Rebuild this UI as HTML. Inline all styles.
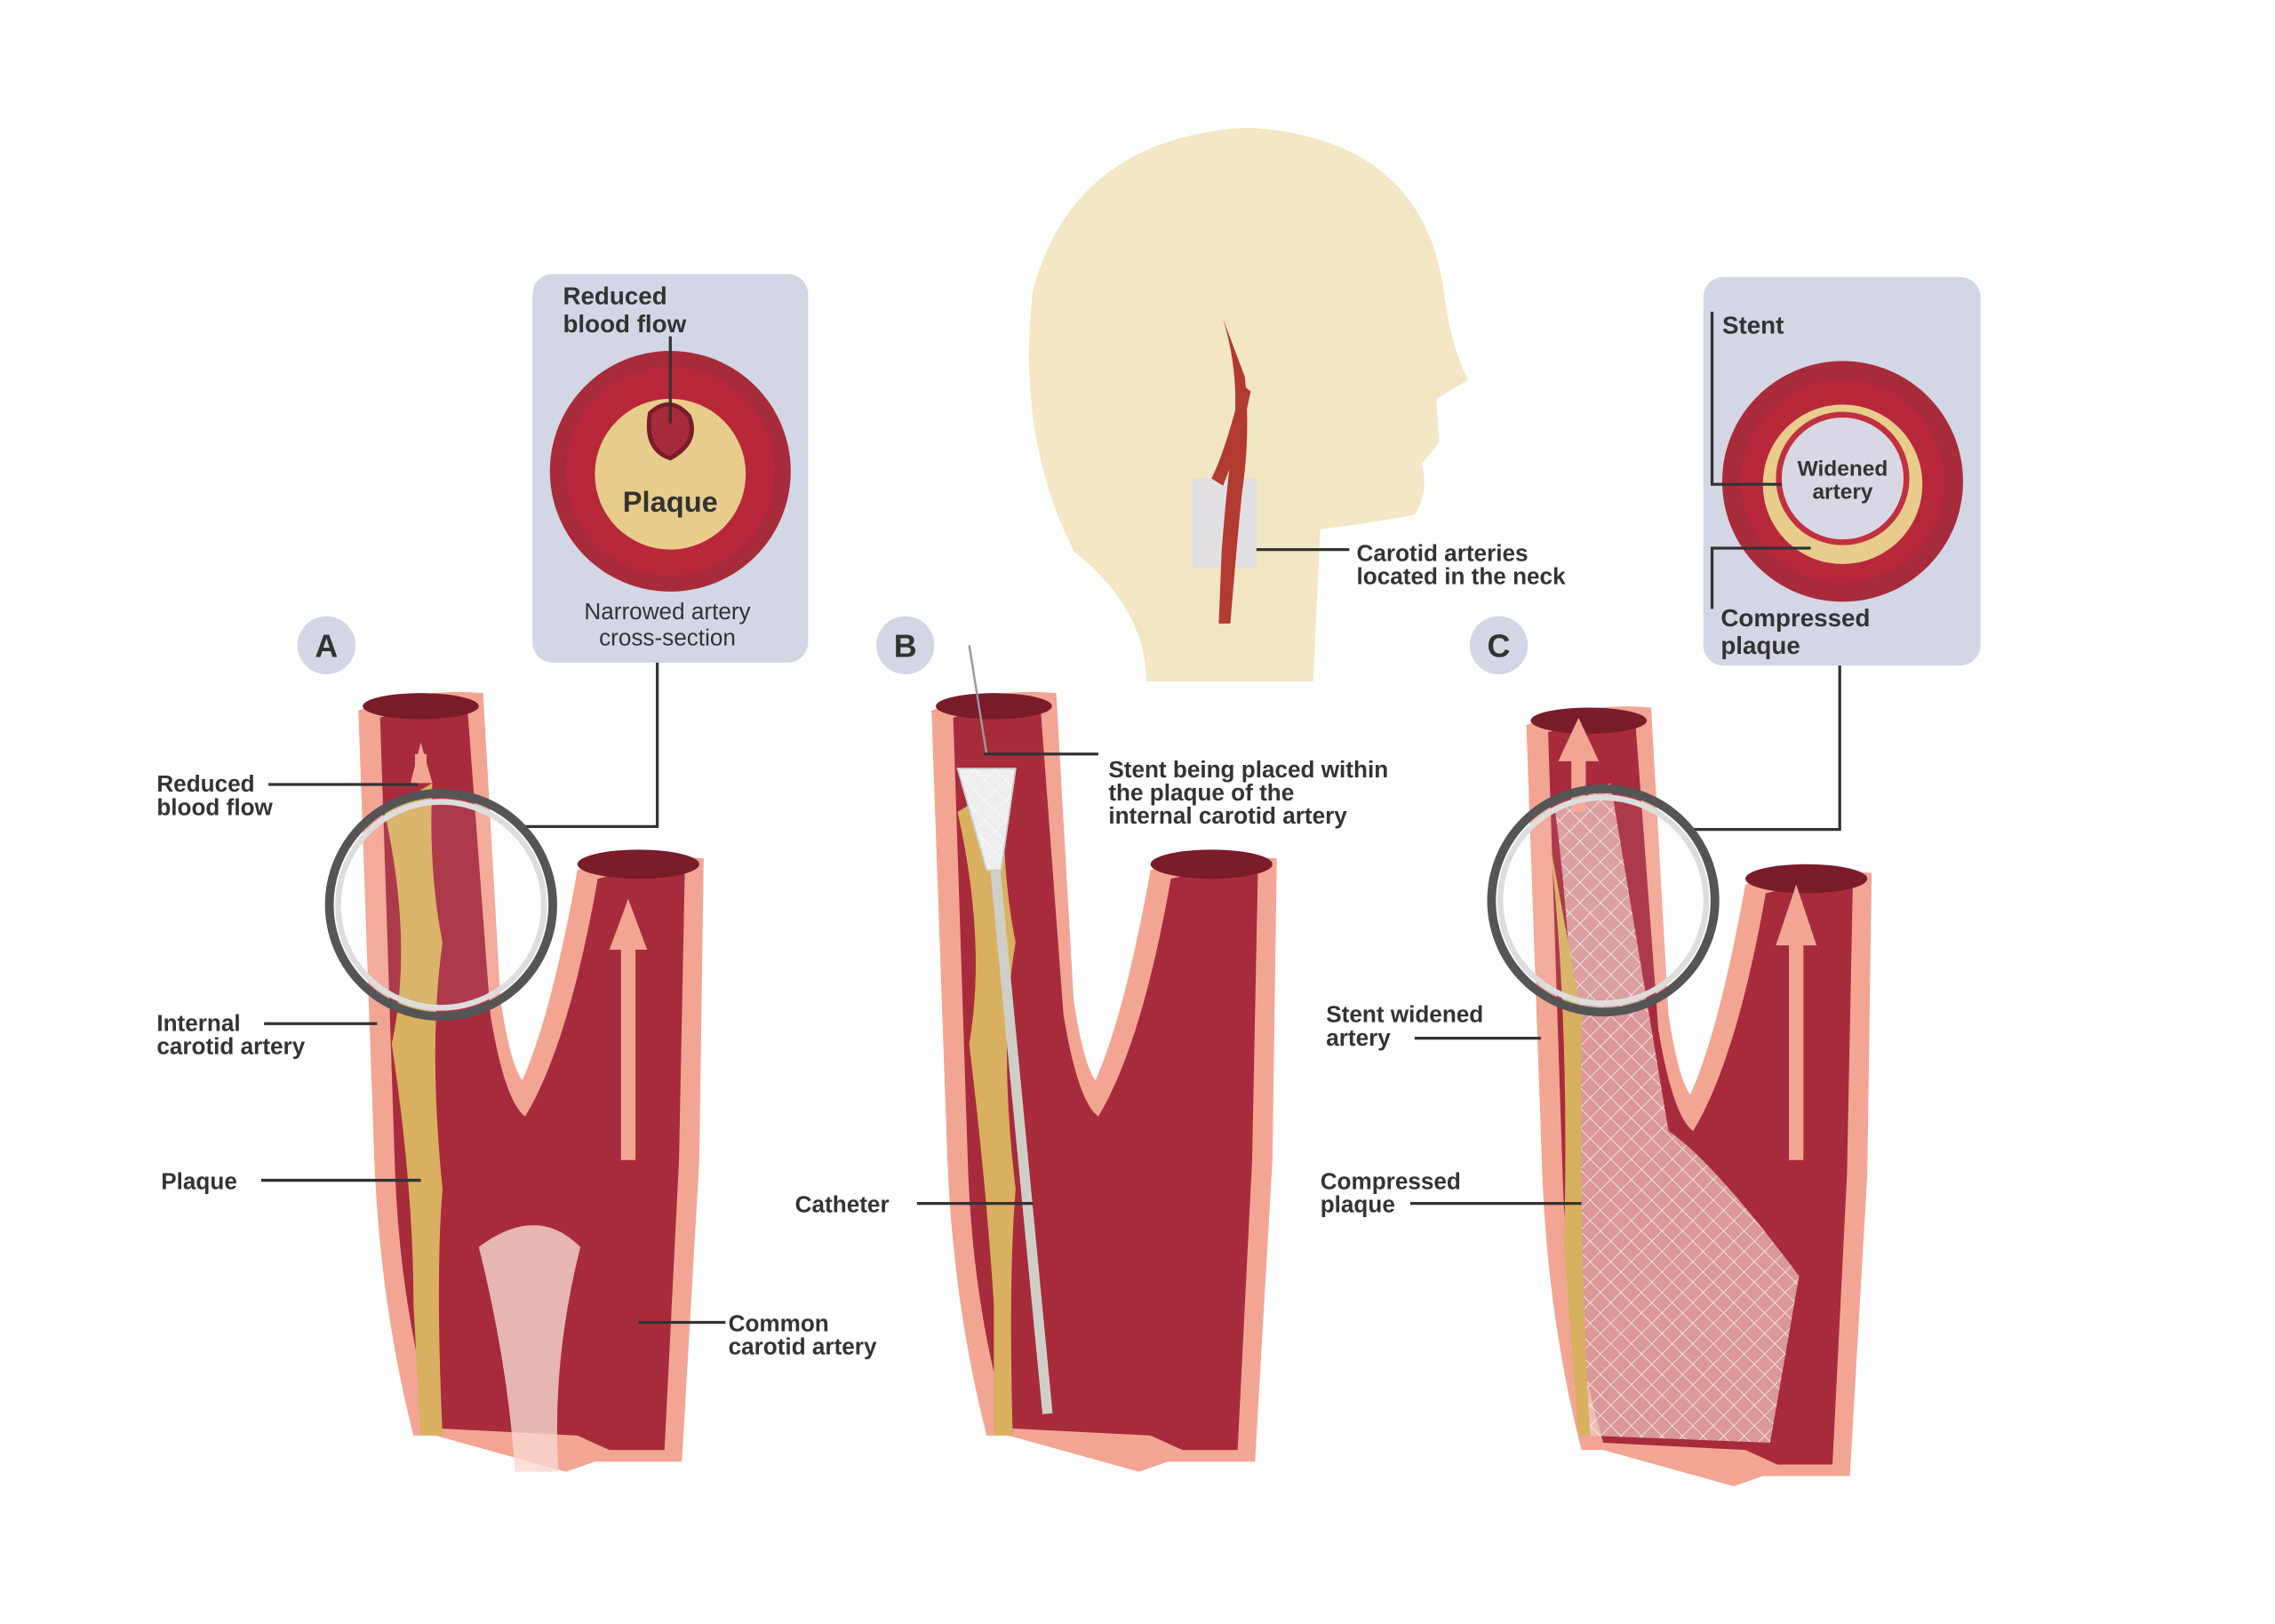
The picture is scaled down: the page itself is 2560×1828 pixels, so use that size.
<!DOCTYPE html>
<html><head><meta charset="utf-8"><style>
html,body{margin:0;padding:0;background:#fff;width:2560px;height:1828px;overflow:hidden}
svg{display:block}
text{font-family:"Liberation Sans",sans-serif;fill:#333;font-weight:bold}
</style></head><body>
<svg width="2560" height="1828" viewBox="0 0 1568 1120" preserveAspectRatio="none">
<defs>
<g id="art">
  <path d="M247,490 Q290,474 333,478 L345,690 Q352,735 360,745 Q380,700 398,600 Q440,588 485,592 L482,800 L470,1008 L410,1008 L390,1015 L300,990 L285,990 Q262,900 258,800 L247,490Z" fill="#f3a594"/>
  <path d="M262,495 Q295,484 322,486 L338,700 Q348,760 362,770 Q392,720 412,606 Q445,598 472,600 L468,800 L458,1000 L420,1000 L398,990 L300,985 Q275,900 272,800 Z" fill="#a82b3c"/>
  <ellipse cx="290" cy="487" rx="40" ry="9" fill="#7a1c2a"/>
  <ellipse cx="440" cy="596" rx="42" ry="10" fill="#7a1c2a"/>
</g>
<pattern id="mesh" width="10" height="10" patternUnits="userSpaceOnUse" patternTransform="rotate(45)">
  <path d="M0,0 L0,10 M0,0 L10,0" stroke="#fff" stroke-width="1" fill="none" opacity=".8"/>
</pattern>
</defs>
<!-- head -->
<path d="M740,380 Q700,300 712,200 Q740,95 860,88 Q980,95 995,200 Q1000,240 1012,262 L990,275 L992,305 L980,320 Q985,340 975,355 Q950,360 910,365 L905,470 L790,470 Q790,420 740,380Z" fill="#f2e6c4"/>
<rect x="822" y="330" width="44" height="62" fill="#dcdde8" opacity=".8"/>
<path d="M843,220 Q855,260 850,300 Q845,340 842,380 L840,430 L848,430 Q852,380 856,340 Q862,300 858,260 Z" fill="#b23a30"/>
<path d="M856,265 Q845,310 835,330 L843,335 Q855,305 862,270Z" fill="#b23a30"/>
<line x1="866" y1="379" x2="930" y2="379" stroke="#333" stroke-width="2"/>
<text x="935" y="387" font-size="16">Carotid arteries</text>
<text x="935" y="403" font-size="16">located in the neck</text>

<!-- panel A -->
<rect x="367" y="189" width="190" height="268" rx="14" fill="#d3d6e4"/>
<circle cx="462" cy="325" r="83" fill="#a82b3c"/>
<circle cx="462" cy="325" r="72" fill="#b8283a"/>
<circle cx="462" cy="327" r="52" fill="#e8cc8c"/>
<path d="M448,285 Q462,272 475,287 Q482,305 462,316 Q444,310 448,285Z" fill="#a82b3c" stroke="#7a1c2a" stroke-width="3"/>
<line x1="462" y1="232" x2="462" y2="292" stroke="#333" stroke-width="2"/>
<text x="388" y="210" font-size="17">Reduced</text>
<text x="388" y="229" font-size="17">blood flow</text>
<text x="462" y="353" font-size="20" text-anchor="middle">Plaque</text>
<text x="460" y="427" font-size="16" text-anchor="middle" style="font-weight:normal">Narrowed artery</text>
<text x="460" y="445" font-size="16" text-anchor="middle" style="font-weight:normal">cross-section</text>
<polyline points="453,457 453,570 360,570" fill="none" stroke="#333" stroke-width="2"/>

<!-- panel C -->
<rect x="1174" y="191" width="191" height="268" rx="14" fill="#d3d6e4"/>
<circle cx="1270" cy="332" r="83" fill="#a82b3c"/>
<circle cx="1270" cy="332" r="70" fill="#b8283a"/>
<circle cx="1270" cy="334" r="55" fill="#e8cc8c"/>
<circle cx="1270" cy="330" r="44" fill="#d8d8e4" stroke="#c03040" stroke-width="4"/>
<text x="1270" y="328" font-size="15" text-anchor="middle">Widened</text>
<text x="1270" y="344" font-size="15" text-anchor="middle">artery</text>
<polyline points="1180,215 1180,334 1228,334" fill="none" stroke="#333" stroke-width="2"/>
<polyline points="1248,378 1180,378 1180,420" fill="none" stroke="#333" stroke-width="2"/>
<text x="1187" y="230" font-size="17">Stent</text>
<text x="1186" y="432" font-size="17">Compressed</text>
<text x="1186" y="451" font-size="17">plaque</text>
<polyline points="1268,459 1268,572 1165,572" fill="none" stroke="#333" stroke-width="2"/>

<!-- letters -->
<g font-size="22">
<circle cx="225" cy="445" r="20" fill="#d3d6e4"/><text x="225" y="453" text-anchor="middle">A</text>
<circle cx="624" cy="445" r="20" fill="#d3d6e4"/><text x="624" y="453" text-anchor="middle">B</text>
<circle cx="1033" cy="445" r="20" fill="#d3d6e4"/><text x="1033" y="453" text-anchor="middle">C</text>
</g>

<!-- artery A -->
<use href="#art"/>
<path d="M265,560 Q285,650 270,720 Q285,820 285,900 L290,990 L305,990 Q300,880 305,820 Q295,720 305,650 Q295,600 298,540Z" fill="#d8b060"/>
<path d="M330,860 Q350,940 355,1015 L385,1015 Q380,940 400,860 Q370,830 330,860Z" fill="#f6d8d0" opacity=".8"/>
<path d="M290,540 L290,520" stroke="#f3a594" stroke-width="8"/>
<path d="M283,540 L290,512 L298,540Z" fill="#f3a594"/>
<path d="M433,800 L433,650" stroke="#f3a594" stroke-width="10"/>
<path d="M420,655 L433,620 L446,655Z" fill="#f3a594"/>
<circle cx="304" cy="624" r="77" fill="#ececf2" fill-opacity=".08" stroke="#555" stroke-width="6"/>
<circle cx="304" cy="624" r="71" fill="none" stroke="#ddd" stroke-width="4"/>
<g font-size="16">
<text x="108" y="546">Reduced</text><text x="108" y="562">blood flow</text>
<line x1="185" y1="541" x2="288" y2="541" stroke="#333" stroke-width="2"/>
<text x="108" y="711">Internal</text><text x="108" y="727">carotid artery</text>
<line x1="182" y1="706" x2="260" y2="706" stroke="#333" stroke-width="2"/>
<text x="111" y="820">Plaque</text>
<line x1="180" y1="814" x2="290" y2="814" stroke="#333" stroke-width="2"/>
<text x="502" y="918">Common</text><text x="502" y="934">carotid artery</text>
<line x1="440" y1="912" x2="500" y2="912" stroke="#333" stroke-width="2"/>
</g>

<!-- artery B -->
<use href="#art" transform="translate(395,0)"/>
<path d="M660,560 Q680,650 668,720 Q680,820 685,900 L685,990 L698,990 Q695,880 700,820 Q688,720 700,650 Q690,600 692,540Z" fill="#d8b060"/>
<line x1="668" y1="445" x2="680" y2="520" stroke="#999" stroke-width="1.5"/>
<path d="M686,600 L722,975" stroke="#cfcfc8" stroke-width="7"/>
<path d="M660,530 L700,530 L690,600 L680,600Z" fill="#eee" stroke="#ccc"/>
<path d="M660,530 L700,530 L690,600 L680,600Z" fill="url(#mesh)" stroke="#ccc"/>
<g font-size="16">
<text x="764" y="536">Stent being placed within</text>
<text x="764" y="552">the plaque of the</text>
<text x="764" y="568">internal carotid artery</text>
<line x1="678" y1="520" x2="757" y2="520" stroke="#333" stroke-width="2"/>
<text x="548" y="836">Catheter</text>
<line x1="632" y1="830" x2="712" y2="830" stroke="#333" stroke-width="2"/>
</g>

<!-- artery C -->
<use href="#art" transform="translate(805,10)"/>
<path d="M1072,560 Q1090,700 1085,900 L1095,990 L1220,995 L1240,880 Q1180,800 1150,780 L1110,540Z" fill="#f0c8c0" opacity=".7"/>
<path d="M1072,560 Q1090,700 1085,900 L1095,990 L1220,995 L1240,880 Q1180,800 1150,780 L1110,540Z" fill="url(#mesh)"/>
<path d="M1068,580 Q1082,700 1078,860 L1088,990 L1096,990 Q1088,860 1090,700 Z" fill="#d8b060"/>
<path d="M1088,560 L1088,520" stroke="#f3a594" stroke-width="10"/>
<path d="M1074,525 L1088,495 L1102,525Z" fill="#f3a594"/>
<path d="M1238,800 L1238,650" stroke="#f3a594" stroke-width="10"/>
<path d="M1224,652 L1238,610 L1252,652Z" fill="#f3a594"/>
<circle cx="1105" cy="621" r="77" fill="#ececf2" fill-opacity=".08" stroke="#555" stroke-width="6"/>
<circle cx="1105" cy="621" r="71" fill="none" stroke="#ddd" stroke-width="4"/>
<g font-size="16">
<text x="914" y="705">Stent widened</text><text x="914" y="721">artery</text>
<line x1="975" y1="716" x2="1062" y2="716" stroke="#333" stroke-width="2"/>
<text x="910" y="820">Compressed</text><text x="910" y="836">plaque</text>
<line x1="972" y1="830" x2="1090" y2="830" stroke="#333" stroke-width="2"/>
</g>
</svg>
</body></html>
